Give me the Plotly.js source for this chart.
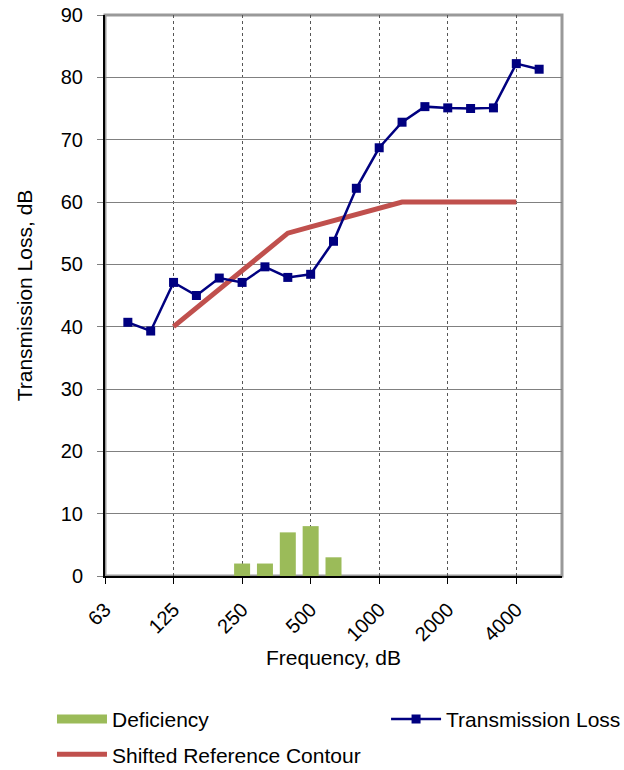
<!DOCTYPE html>
<html><head><meta charset="utf-8">
<script src="https://cdn.plot.ly/plotly-3.0.1.min.js"></script>
<style>html,body{margin:0;padding:0;background:#fff}#chart{width:624px;height:770px}</style>
</head><body><div id="chart"></div>
<script>
// One-third octave band centre frequencies (category axis)
const bands = ['63','80','100','125','160','200','250','315','400','500','630','800','1000','1250','1600','2000','2500','3150','4000','5000','6300'];
const tickLabels = ['63','125','250','500','1000','2000','4000'];

// Transmission Loss (dB)
const tlFreq = ['80','100','125','160','200','250','315','400','500','630','800','1000','1250','1600','2000','2500','3150','4000','5000'];
const tlValues = [40.7, 39.3, 47.1, 45.0, 47.8, 47.1, 49.6, 47.9, 48.4, 53.7, 62.2, 68.7, 72.8, 75.3, 75.1, 75.0, 75.1, 82.2, 81.3];

// Shifted Reference Contour (dB)
const refFreq = ['125','160','200','250','315','400','500','630','800','1000','1250','1600','2000','2500','3150','4000'];
const refValues = [40, 43, 46, 49, 52, 55, 56, 57, 58, 59, 60, 60, 60, 60, 60, 60];

// Deficiency (dB)
const defFreq = ['125','160','200','250','315','400','500','630','800','1000','1250','1600','2000','2500','3150','4000'];
const defValues = [0, 0, 0, 2, 2, 7, 8, 3, 0, 0, 0, 0, 0, 0, 0, 0];

const FONT = 'Liberation Sans, Arial, sans-serif';
const GREEN = '#9BBB59', RED = '#C0504D', NAVY = '#000080';

const traces = [
  {type:'bar', x:defFreq, y:defValues, name:'Deficiency', marker:{color:GREEN}, width:0.7, showlegend:false},
  {type:'scatter', mode:'lines', x:[null], y:[null], name:'Deficiency', line:{color:GREEN, width:9}, legend:'legend', legendgroup:'a', hoverinfo:'skip'},
  {type:'scatter', mode:'lines', x:refFreq, y:refValues, name:'Shifted Reference Contour', line:{color:RED, width:5}, legend:'legend', legendgroup:'b'},
  {type:'scatter', mode:'lines+markers', x:tlFreq, y:tlValues, name:'Transmission Loss', line:{color:NAVY, width:2.5}, marker:{symbol:'square', size:9, color:NAVY}, legend:'legend2'}
];

const layout = {
  width:624, height:770,
  margin:{l:105, r:62, t:15, b:194, autoexpand:false},
  paper_bgcolor:'#fff', plot_bgcolor:'#fff',
  font:{family:FONT, size:20, color:'#000'},
  bargap:0.3,
  xaxis:{
    type:'category', categoryorder:'array', categoryarray:bands, range:[0,20],
    tickmode:'array', tickvals:tickLabels, ticktext:tickLabels, tickangle:-45,
    ticks:'outside', ticklen:6, tickcolor:'#000', tickwidth:1,
    showgrid:true, gridcolor:'#555', griddash:'dot', gridwidth:1,
    showline:true, linecolor:'#000', linewidth:2, zeroline:false, automargin:false,
    tickfont:{size:20}, ticklabelstandoff:6,
    title:{text:'Frequency, dB', font:{size:21}, standoff:6}
  },
  yaxis:{
    range:[0,90], dtick:10, tick0:0,
    ticks:'outside', ticklen:6, tickcolor:'#808080', tickwidth:1,
    showgrid:true, gridcolor:'#808080', gridwidth:1,
    showline:true, linecolor:'#000', linewidth:2, zeroline:false, automargin:false,
    tickfont:{size:20}, ticklabelstandoff:10,
    title:{text:'Transmission Loss, dB', font:{size:21}, standoff:22}
  },
  shapes:[{type:'rect', xref:'paper', yref:'paper', x0:0, x1:1, y0:0, y1:1, line:{color:'#999', width:3}, layer:'below'}],
  legend:{x:-0.116, xanchor:'left', y:-0.219, yanchor:'top', orientation:'v', traceorder:'grouped', tracegroupgap:5, itemwidth:50, font:{size:21}, bgcolor:'rgba(0,0,0,0)'},
  legend2:{x:0.615, xanchor:'left', y:-0.219, yanchor:'top', orientation:'v', itemwidth:50, font:{size:21}, bgcolor:'rgba(0,0,0,0)'},
  showlegend:true
};

Plotly.newPlot('chart', traces, layout, {displayModeBar:false, staticPlot:true});
</script>
</body></html>
